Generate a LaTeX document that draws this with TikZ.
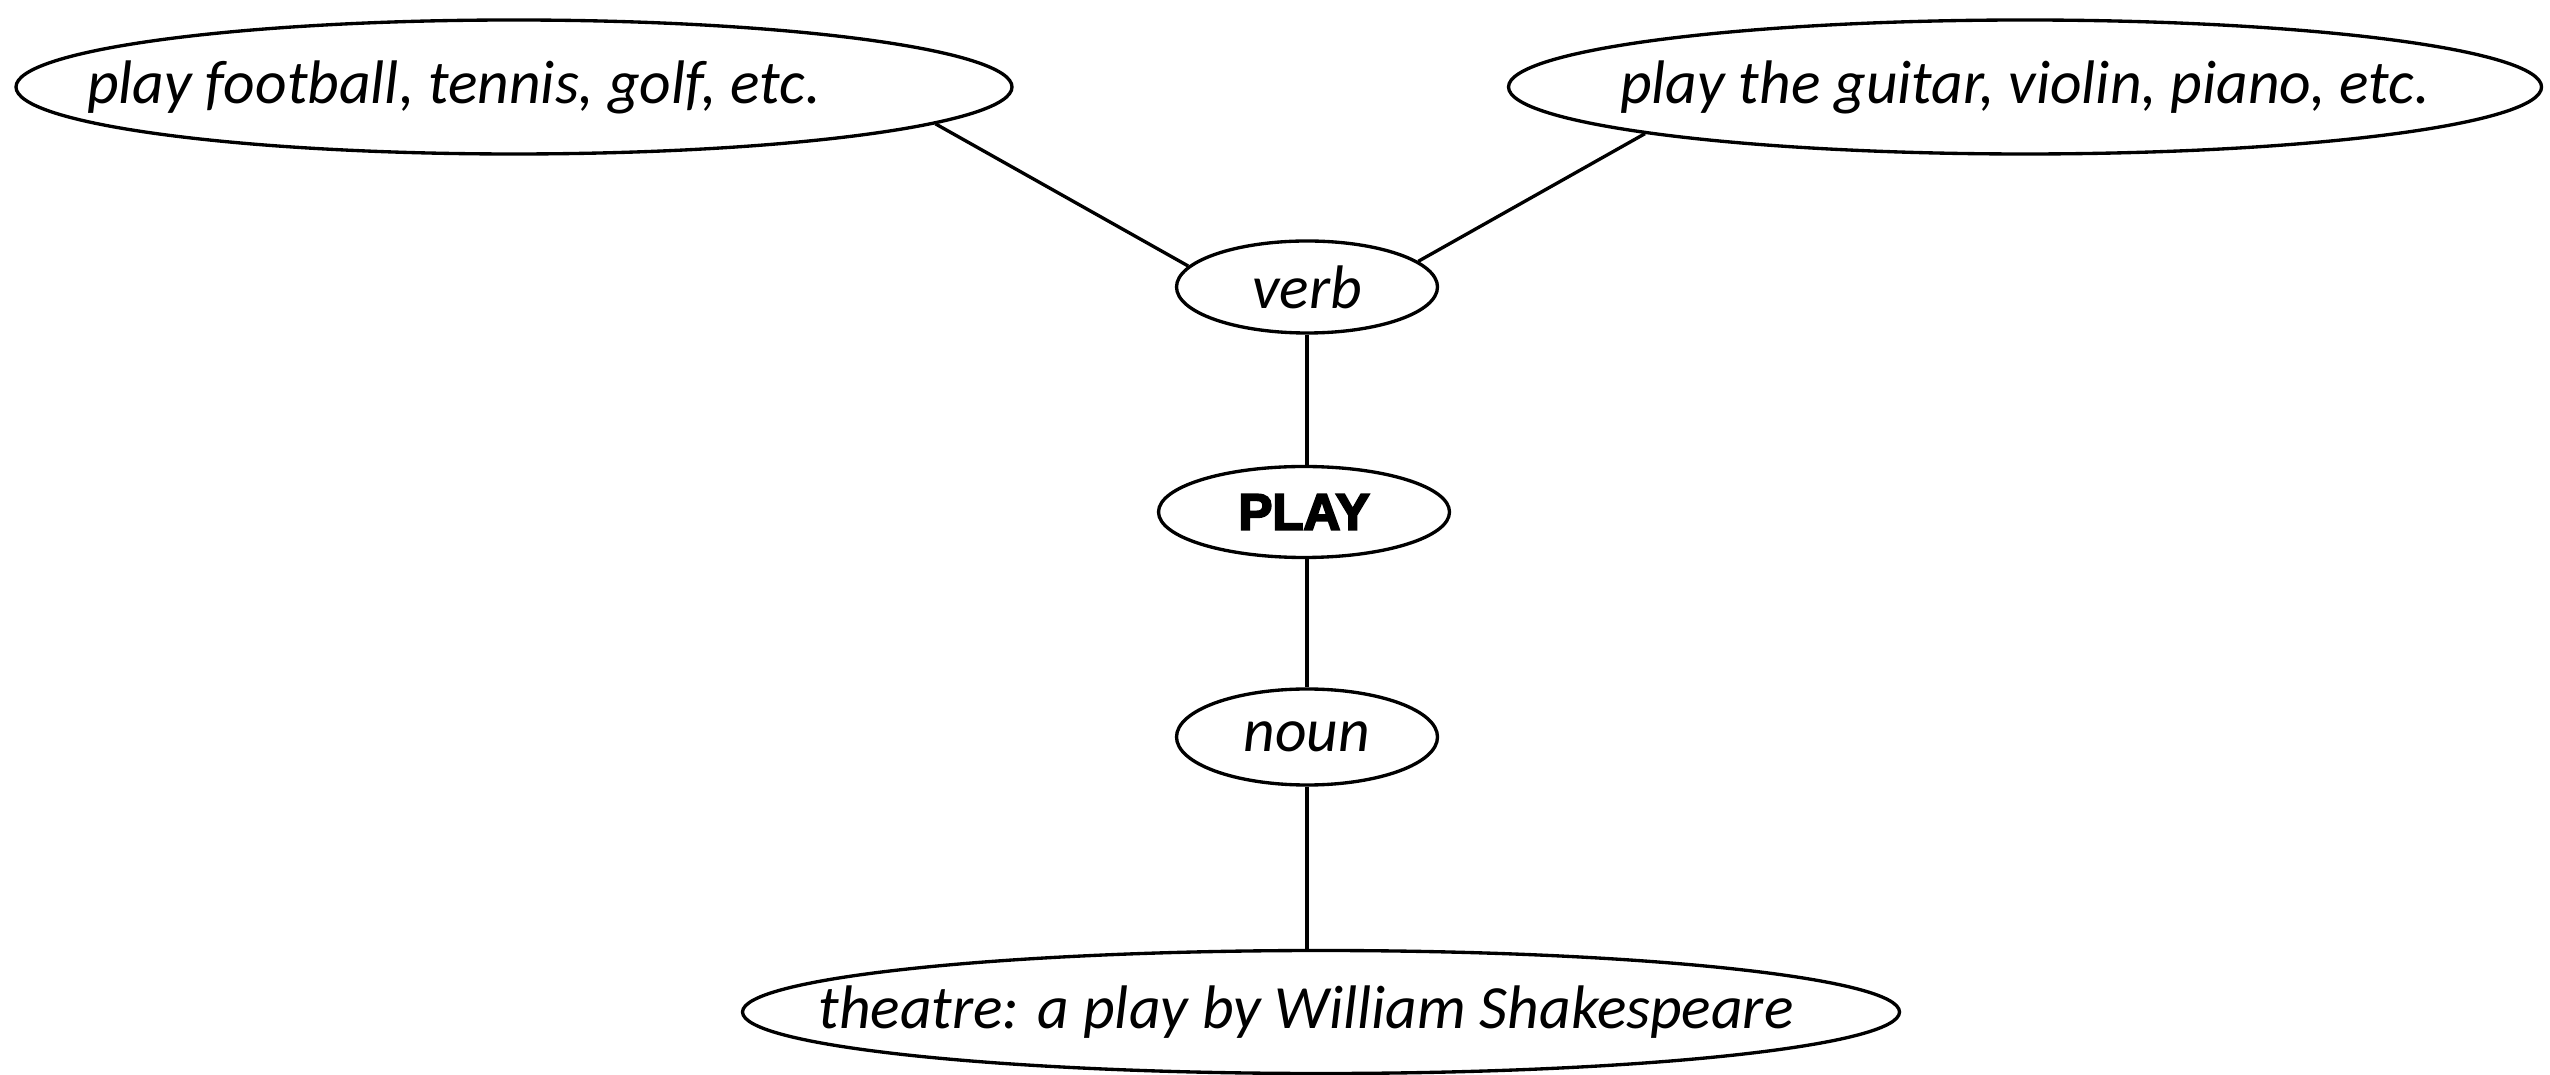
\documentclass[tikz,border=0pt]{standalone}
\usepackage{fontspec}
\setmainfont{Carlito}
\newfontfamily\playfont[BoldFeatures={FakeBold=4}]{Liberation Sans}
\usetikzlibrary{shapes.geometric}

\begin{document}
\begin{tikzpicture}
  [line width=0.95pt,every node/.style={ellipse,draw,inner xsep=-1cm,inner ysep=0pt,font=\fontsize{17.5}{20}\selectfont\itshape}]
  \useasboundingbox (0,0) rectangle (25.5,-10.75);

  % Nodos centrales
  \node (verb) at (13.07,-2.87) [minimum width=2.61cm,minimum height=0.92cm] {verb};
  \node (play) at (13.04,-5.12) [minimum width=2.91cm,minimum height=0.91cm,font=\playfont\bfseries\fontsize{14.5}{18}\selectfont] {PLAY};
  \node (noun) at (13.07,-7.37) [minimum width=2.61cm,minimum height=0.96cm] {noun};

  % Usos del verbo
  \node (sport) at (5.14,-0.87) [minimum width=9.96cm,minimum height=1.34cm] {play football, tennis, golf, etc.\hspace*{1.2cm}};
  \node (music) at (20.25,-0.87) [minimum width=10.33cm,minimum height=1.34cm] {play the guitar, violin, piano, etc.};

  % Uso como sustantivo
  \node (theatre) at (13.21,-10.12) [minimum width=11.57cm,minimum height=1.23cm] {theatre: a play by William Shakespeare\hspace*{0.3cm}};

  % Aristas
  \draw (sport.-5) -- (verb.170);
  \draw (music.187) -- (verb.13);
  \draw (verb) -- (verb |- play.north);
  \draw (play.south -| verb) -- (noun);
  \draw (noun) -- (noun |- theatre.north);
\end{tikzpicture}
\end{document}
